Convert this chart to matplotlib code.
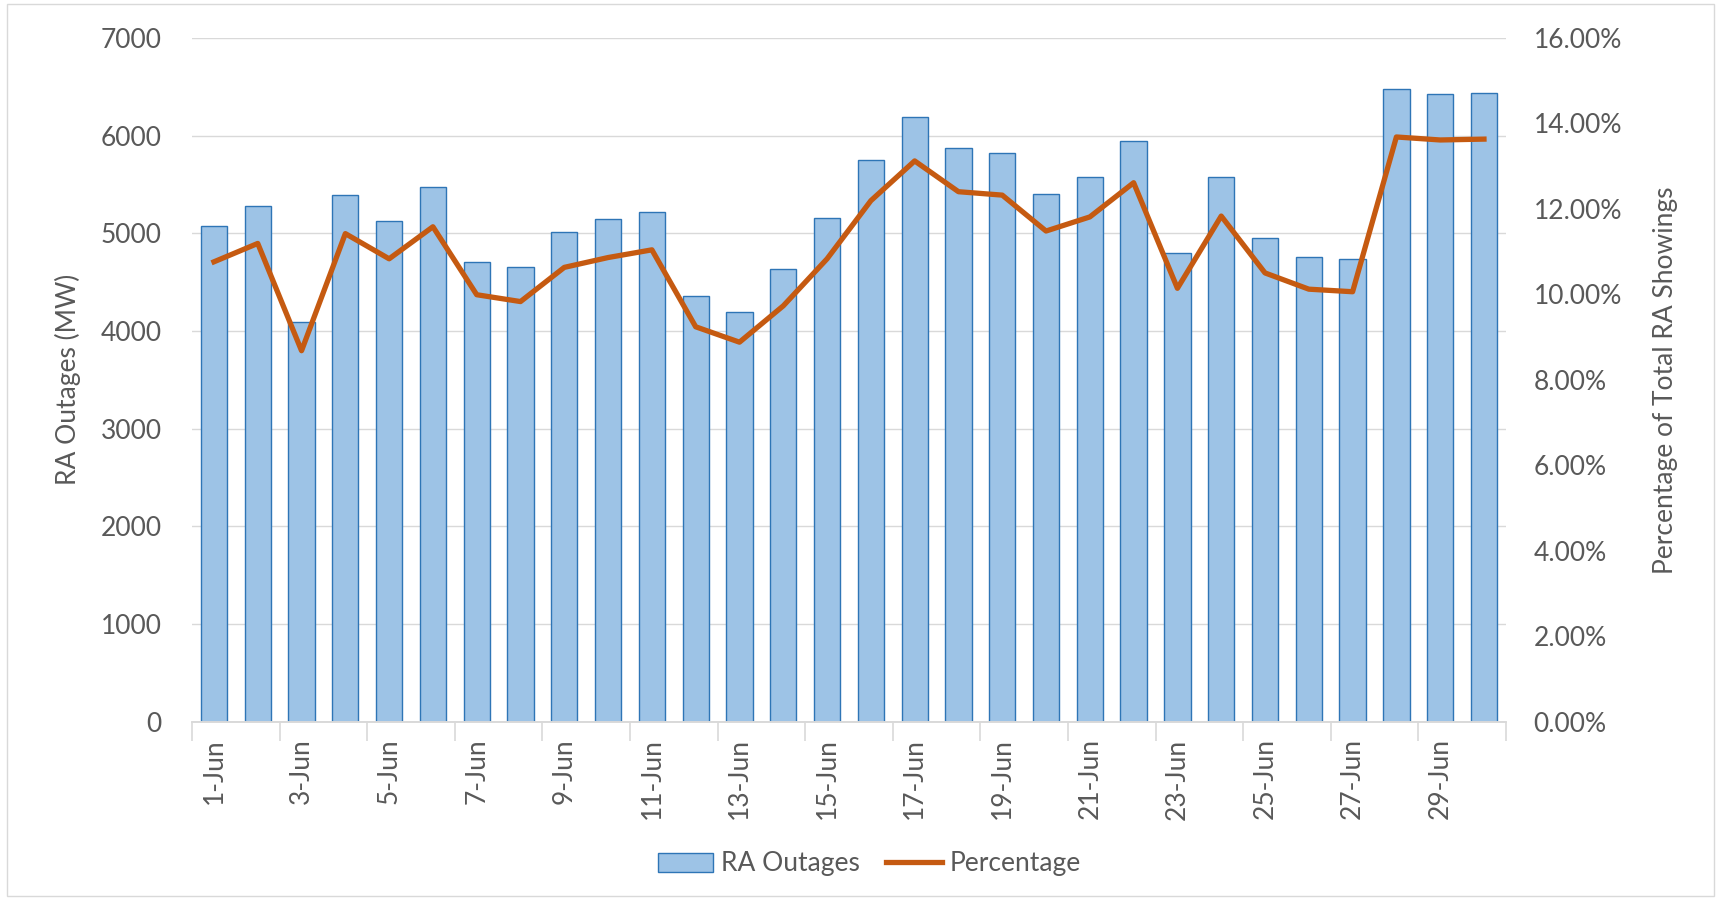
import matplotlib.pyplot as plt
from matplotlib.patches import Rectangle
from matplotlib.ticker import FuncFormatter

plt.rcParams['font.family'] = ['Lato', 'DejaVu Sans']

# Data
days = [f"{d}-Jun" for d in range(1, 31)]
outages = [5070, 5280, 4090, 5390, 5130, 5470, 4710, 4650, 5010, 5150,
           5220, 4360, 4190, 4630, 5160, 5750, 6190, 5870, 5820, 5400,
           5580, 5940, 4800, 5580, 4950, 4760, 4740, 6480, 6420, 6440]
percentage = [10.76, 11.19, 8.68, 11.42, 10.83, 11.58, 9.99, 9.83, 10.63, 10.86,
              11.04, 9.24, 8.88, 9.73, 10.83, 12.19, 13.12, 12.40, 12.32, 11.48,
              11.81, 12.61, 10.14, 11.83, 10.50, 10.12, 10.06, 13.68, 13.61, 13.63]

grey = '#595959'
fs = 19
fig = plt.figure(figsize=(17.21, 9.0), dpi=100)
ax = fig.add_axes([0.1116, 0.198, 0.7634, 0.760])
ax2 = ax.twinx()

x = list(range(len(days)))
bars = ax.bar(x, outages, width=0.6, color='#9DC3E6', edgecolor='#2E75B6',
              linewidth=1.0, label='RA Outages', zorder=2)
line, = ax2.plot(x, percentage, color='#C55A11', linewidth=3.8,
                 label='Percentage', zorder=3)

ax.set_xlim(-0.5, len(days) - 0.5)
ax.set_ylim(0, 7000)
ax.set_yticks(range(0, 7001, 1000))
ax2.set_ylim(0, 16)
ax2.set_yticks(range(0, 17, 2))
ax2.yaxis.set_major_formatter(FuncFormatter(lambda v, p: f"{v:.2f}%"))

ax.grid(axis='y', color='#D9D9D9', linewidth=1.0, zorder=0)
ax.set_axisbelow(True)

for a in (ax, ax2):
    for s in ('top', 'left', 'right'):
        a.spines[s].set_visible(False)
    a.spines['bottom'].set_color('#D9D9D9')
    a.spines['bottom'].set_linewidth(1.2)

# category labels every 2 days, ticks on the category boundaries
ax.set_xticks(x[::2])
ax.set_xticklabels(days[::2], rotation=90, fontsize=fs, color=grey)
ax.tick_params(axis='x', length=0, pad=12)
ax.set_xticks([i - 0.5 for i in range(0, len(days) + 1, 2)], minor=True)
ax.tick_params(axis='x', which='minor', length=14, color='#D9D9D9', width=1.2)

ax.tick_params(axis='y', length=0, pad=22, labelsize=fs, labelcolor=grey)
ax2.tick_params(axis='y', length=0, pad=20, labelsize=fs, labelcolor=grey)

ax.set_ylabel('RA Outages (MW)', fontsize=fs, color=grey, labelpad=14)
ax2.set_ylabel('Percentage of Total RA Showings', fontsize=fs, color=grey, labelpad=22)

fig.legend([bars, line], ['RA Outages', 'Percentage'], loc='center',
           bbox_to_anchor=(0.505, 0.04), ncol=2, frameon=False, fontsize=fs,
           labelcolor=grey, handlelength=2.1, columnspacing=1.0, handletextpad=0.3)

fig.patches.append(Rectangle((0.004, 0.004), 0.992, 0.992, transform=fig.transFigure,
                             fill=False, edgecolor='#D9D9D9', linewidth=1.0))

fig.savefig('out.png', dpi=100)
